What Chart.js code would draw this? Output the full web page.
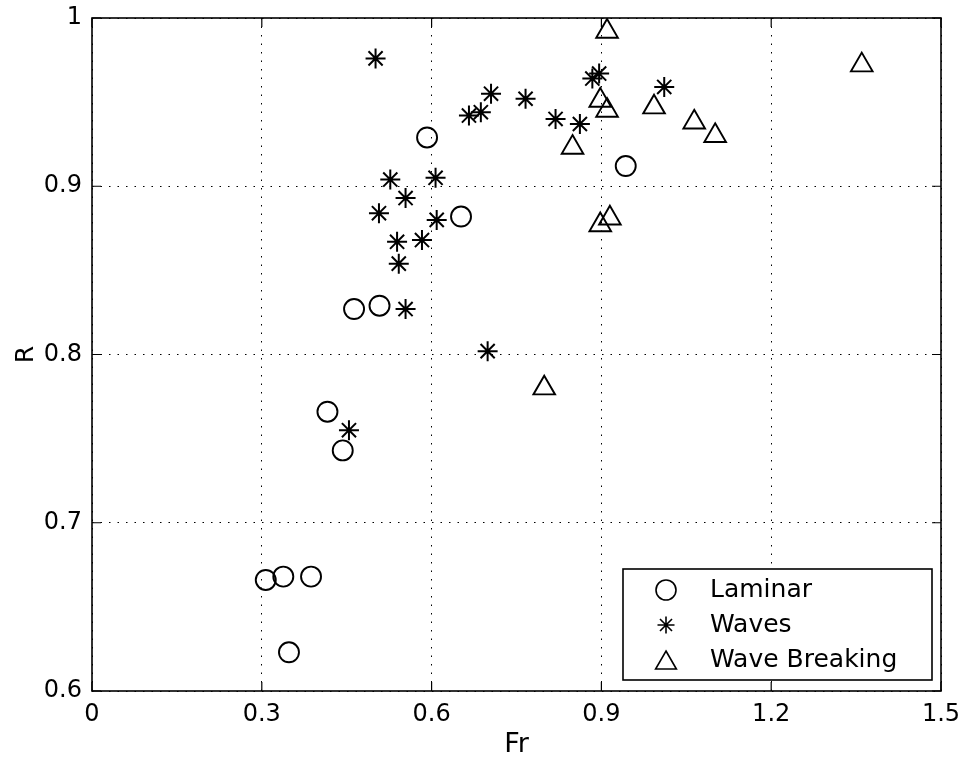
<!DOCTYPE html>
<html>
<head>
<meta charset="utf-8">
<script src="https://cdn.jsdelivr.net/npm/chart.js@4"></script>
<style>
  html, body { margin: 0; padding: 0; background: #fff; }
  #wrap { width: 969px; height: 761px; }
</style>
</head>
<body>
<div id="wrap"><canvas id="scatterFr"></canvas></div>
<script>
// Fr / R pairs
let laminarFr = [0.307, 0.338, 0.387, 0.348, 0.416, 0.443, 0.463, 0.508, 0.592, 0.652, 0.943];
let laminarR  = [0.666, 0.668, 0.668, 0.623, 0.766, 0.743, 0.827, 0.829, 0.929, 0.882, 0.912];

let wavesFr = [0.501, 0.527, 0.554, 0.507, 0.607, 0.609, 0.539, 0.583, 0.542, 0.554, 0.699,
               0.454, 0.666, 0.687, 0.705, 0.766, 0.819, 0.862, 0.884, 0.896, 1.011];
let wavesR  = [0.976, 0.904, 0.893, 0.884, 0.905, 0.880, 0.867, 0.868, 0.854, 0.827, 0.802,
               0.755, 0.942, 0.944, 0.955, 0.952, 0.940, 0.937, 0.964, 0.967, 0.959];

let breakingFr = [0.910, 0.898, 0.910, 0.993, 0.849, 1.064, 1.101, 1.360, 0.898, 0.915, 0.799];
let breakingR  = [0.992, 0.951, 0.945, 0.947, 0.923, 0.938, 0.930, 0.972, 0.877, 0.881, 0.780];

let xTicks = [0, 0.3, 0.6, 0.9, 1.2, 1.5];
let xTickLabels = ['0', '0.3', '0.6', '0.9', '1.2', '1.5'];
let yTicks = [0.6, 0.7, 0.8, 0.9, 1];
let yTickLabels = ['0.6', '0.7', '0.8', '0.9', '1'];

let seriesNames = ['Laminar', 'Waves', 'Wave Breaking'];

function toPoints(xs, ys) {
    return xs.map((x, i) => ({ x: x, y: ys[i] }));
}

const FONT = '"DejaVu Sans", sans-serif';

// box round the plot, inward ticks, and the boxed legend
const matlabFrame = {
    id: 'matlabFrame',
    afterDatasetsDraw(chart) {
        const ctx = chart.ctx;
        const a = chart.chartArea;
        const xs = chart.scales.x, ys = chart.scales.y;
        const tickLen = 9;
        ctx.save();
        ctx.strokeStyle = '#000';
        ctx.lineWidth = 1.6;
        ctx.strokeRect(a.left, a.top, a.right - a.left, a.bottom - a.top);
        ctx.beginPath();
        xTicks.forEach(v => {
            const px = xs.getPixelForValue(v);
            ctx.moveTo(px, a.bottom); ctx.lineTo(px, a.bottom - tickLen);
            ctx.moveTo(px, a.top); ctx.lineTo(px, a.top + tickLen);
        });
        yTicks.forEach(v => {
            const py = ys.getPixelForValue(v);
            ctx.moveTo(a.left, py); ctx.lineTo(a.left + tickLen, py);
            ctx.moveTo(a.right, py); ctx.lineTo(a.right - tickLen, py);
        });
        ctx.lineWidth = 1.2;
        ctx.stroke();

        // legend
        const bw = 309, bh = 111;
        const bx = a.right - 9 - bw, by = a.bottom - 11 - bh;
        ctx.fillStyle = '#fff';
        ctx.fillRect(bx, by, bw, bh);
        ctx.lineWidth = 1.6;
        ctx.strokeRect(bx, by, bw, bh);
        const rows = [21, 56, 91];
        chart.data.datasets.forEach((ds, i) => {
            const cy = by + rows[i];
            ctx.strokeStyle = '#000';
            ctx.fillStyle = 'rgba(0,0,0,0)';
            Chart.helpers.drawPoint(ctx, {
                pointStyle: ds.pointStyle,
                radius: i === 2 ? 12 : (i === 1 ? 8.5 : 10),
                rotation: 0,
                borderWidth: 1.9
            }, bx + 43, i === 2 ? cy + 3 : cy);
            ctx.fillStyle = '#000';
            ctx.font = '25px ' + FONT;
            ctx.textAlign = 'left';
            ctx.textBaseline = 'middle';
            ctx.fillText(ds.label, bx + 87, cy);
        });
        ctx.restore();
    }
};

let ctxFr = document.getElementById('scatterFr').getContext('2d');
let scatterFr = new Chart(ctxFr, {
    type: 'scatter',
    data: {
        datasets: [{
            label: seriesNames[0],
            data: toPoints(laminarFr, laminarR),
            pointStyle: 'circle',
            pointRadius: 10,
            pointHoverRadius: 10,
            borderColor: '#000',
            backgroundColor: 'rgba(0,0,0,0)',
            borderWidth: 1.9
        }, {
            label: seriesNames[1],
            data: toPoints(wavesFr, wavesR),
            pointStyle: 'star',
            pointRadius: 10,
            pointHoverRadius: 10,
            borderColor: '#000',
            backgroundColor: 'rgba(0,0,0,0)',
            borderWidth: 2
        }, {
            label: seriesNames[2],
            data: toPoints(breakingFr, breakingR),
            pointStyle: 'triangle',
            pointRadius: 12.5,
            pointHoverRadius: 12.5,
            borderColor: '#000',
            backgroundColor: 'rgba(0,0,0,0)',
            borderWidth: 1.9
        }]
    },
    options: {
        responsive: true,
        maintainAspectRatio: false,
        animation: false,
        layout: {
            padding: { top: 18, right: 28, left: 0, bottom: 0 }
        },
        plugins: {
            legend: { display: false },
            tooltip: { enabled: false }
        },
        scales: {
            x: {
                type: 'linear',
                min: 0,
                max: 1.5,
                afterBuildTicks: s => { s.ticks = xTicks.map(v => ({ value: v })); },
                afterFit: s => { s.height = 70; s.paddingLeft = 0; s.paddingRight = 0; },
                ticks: {
                    color: '#000',
                    font: { family: FONT, size: 24 },
                    padding: 9,
                    maxRotation: 0,
                    autoSkip: false,
                    callback: (v, i) => xTickLabels[i]
                },
                grid: { color: '#000', lineWidth: 1, drawTicks: false },
                border: { display: false, dash: [1.5, 7] },
                title: {
                    display: true,
                    text: 'Fr',
                    color: '#000',
                    font: { family: FONT, size: 27 },
                    padding: 0
                }
            },
            y: {
                type: 'linear',
                min: 0.6,
                max: 1,
                afterBuildTicks: s => { s.ticks = yTicks.map(v => ({ value: v })); },
                afterFit: s => { s.width = 92; s.paddingTop = 0; s.paddingBottom = 0; },
                ticks: {
                    color: '#000',
                    font: { family: FONT, size: 24 },
                    padding: 10,
                    autoSkip: false,
                    callback: (v, i) => yTickLabels[i]
                },
                grid: { color: '#000', lineWidth: 1, drawTicks: false },
                border: { display: false, dash: [1.5, 7] },
                title: {
                    display: true,
                    text: 'R',
                    color: '#000',
                    font: { family: FONT, size: 25 },
                    padding: { top: 11, bottom: 0 }
                }
            }
        }
    },
    plugins: [matlabFrame]
});
</script>
</body>
</html>
